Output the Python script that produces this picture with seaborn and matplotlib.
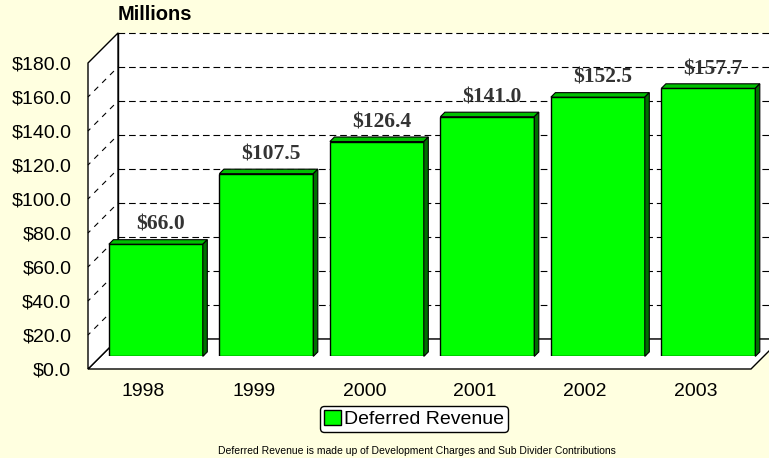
import numpy as np
import seaborn as sns
import matplotlib.pyplot as plt
from matplotlib.patches import Polygon, Patch

# Data
years = ['1998', '1999', '2000', '2001', '2002', '2003']
revenue = [66.0, 107.5, 126.4, 141.0, 152.5, 157.7]
y_ticks = [0, 20, 40, 60, 80, 100, 120, 140, 160, 180]
series_name = 'Deferred Revenue'
footnote = 'Deferred Revenue is made up of Development Charges and Sub Divider Contributions'

sns.set_theme(style='white')
plt.rcParams['font.family'] = ['Liberation Sans', 'DejaVu Sans']
plt.rcParams['text.color'] = 'black'
plt.rcParams['xtick.color'] = 'black'
plt.rcParams['ytick.color'] = 'black'

W, H = 769, 458
BG = '#FFFFE0'
GREEN = '#00FF00'
TOP = '#00C000'
SIDE = '#007000'

fig = plt.figure(figsize=(W / 100, H / 100), dpi=100, facecolor=BG)

# front plane of the 3d box in pixels
left, bottom, width, height = 88, 369, 663, 306
depth = 30
f_bar, f_depth = 0.42, 0.15


def rect(dx=0.0):
    return [(left + dx) / W, (H - bottom + dx) / H, width / W, height / H]


ymax = y_ticks[-1]
n = len(years)
xlim = (-0.5, n - 0.5)
dxu = depth / width * n
dyu = depth / height * ymax
dash = (0, (6, 3.5))

# back wall with dashed gridlines
ax_back = fig.add_axes(rect(depth), zorder=0)
ax_back.set_xlim(xlim)
ax_back.set_ylim(0, ymax)
ax_back.set_facecolor('white')
for s in ['top', 'right']:
    ax_back.spines[s].set_visible(False)
for s in ['left', 'bottom']:
    ax_back.spines[s].set_color('black')
    ax_back.spines[s].set_linewidth(1)
ax_back.hlines(y_ticks[1:], xlim[0], xlim[1] + 1, colors='black',
               linestyles=dash, linewidth=0.8, clip_on=False)
ax_back.set_xticks([])
ax_back.set_yticks([])

# front axes: labels, floor and left wall
ax = fig.add_axes(rect(0), zorder=1)
ax.set_xlim(xlim)
ax.set_ylim(0, ymax)
ax.patch.set_alpha(0)
for s in ax.spines.values():
    s.set_visible(False)
x0 = xlim[0]
x1 = xlim[1]
floor = Polygon([(x0, 0), (x1, 0), (x1 + dxu, dyu), (x0 + dxu, dyu)],
                closed=True, facecolor='white', edgecolor='black', lw=1, clip_on=False)
wall = Polygon([(x0, 0), (x0, ymax), (x0 + dxu, ymax + dyu), (x0 + dxu, dyu)],
               closed=True, facecolor='white', edgecolor='black', lw=1, clip_on=False)
ax.add_patch(floor)
ax.add_patch(wall)
for v in y_ticks[1:-1]:
    ax.plot([x0, x0 + dxu], [v, v + dyu], color='black', lw=0.8,
            linestyle=(2, (5, 5)), clip_on=False)
ax.set_xticks(range(n))
ax.set_xticklabels(years, fontsize=14)
ax.set_yticks(y_ticks)
ax.set_yticklabels([f'${v:.1f}' for v in y_ticks], fontsize=14)
ax.tick_params(axis='y', length=0, pad=12)
ax.tick_params(axis='x', length=0, pad=10)

# bars
ax_bar = fig.add_axes(rect(f_bar * depth), zorder=2)
sns.barplot(x=years, y=revenue, ax=ax_bar, color=GREEN, saturation=1,
            edgecolor='black', linewidth=1, width=0.85)
ax_bar.set_xlim(xlim)
ax_bar.set_ylim(0, ymax)
ax_bar.axis('off')
ddx = f_depth * dxu
ddy = f_depth * dyu
for p, v in zip(list(ax_bar.patches), revenue):
    bx, bw, bh = p.get_x(), p.get_width(), p.get_height()
    top = Polygon([(bx, bh), (bx + bw, bh), (bx + bw + ddx, bh + ddy), (bx + ddx, bh + ddy)],
                  closed=True, facecolor=TOP, edgecolor='black', lw=0.8, clip_on=False)
    side = Polygon([(bx + bw, 0), (bx + bw, bh), (bx + bw + ddx, bh + ddy), (bx + bw + ddx, ddy)],
                   closed=True, facecolor=SIDE, edgecolor='black', lw=0.8, clip_on=False)
    ax_bar.add_patch(top)
    ax_bar.add_patch(side)
    ax_bar.annotate(f'${v:.1f}', (bx + bw / 2 + ddx, bh + ddy), xytext=(0, 7),
                    textcoords='offset points', ha='center', va='baseline',
                    family='Liberation Serif', fontweight='bold', fontsize=15.5,
                    color='#333333', annotation_clip=False)

fig.text(118 / W, 1 - 15 / H, 'Millions', ha='left', va='center',
         fontsize=14.5, fontweight='bold')

leg = fig.legend(handles=[Patch(facecolor=GREEN, edgecolor='black', label=series_name)],
                 loc='center', bbox_to_anchor=(414 / W, 1 - 419 / H), frameon=True,
                 fancybox=True, edgecolor='black', facecolor='white', framealpha=1,
                 fontsize=14, handlelength=0.85, handleheight=0.85, handletextpad=0.15,
                 borderpad=0.2, borderaxespad=0)
leg.get_frame().set_linewidth(1)

fig.text(417 / W, 1 - 451 / H, footnote, ha='center', va='center', fontsize=7.5)

fig.savefig('out.png', dpi=100, facecolor=BG)
